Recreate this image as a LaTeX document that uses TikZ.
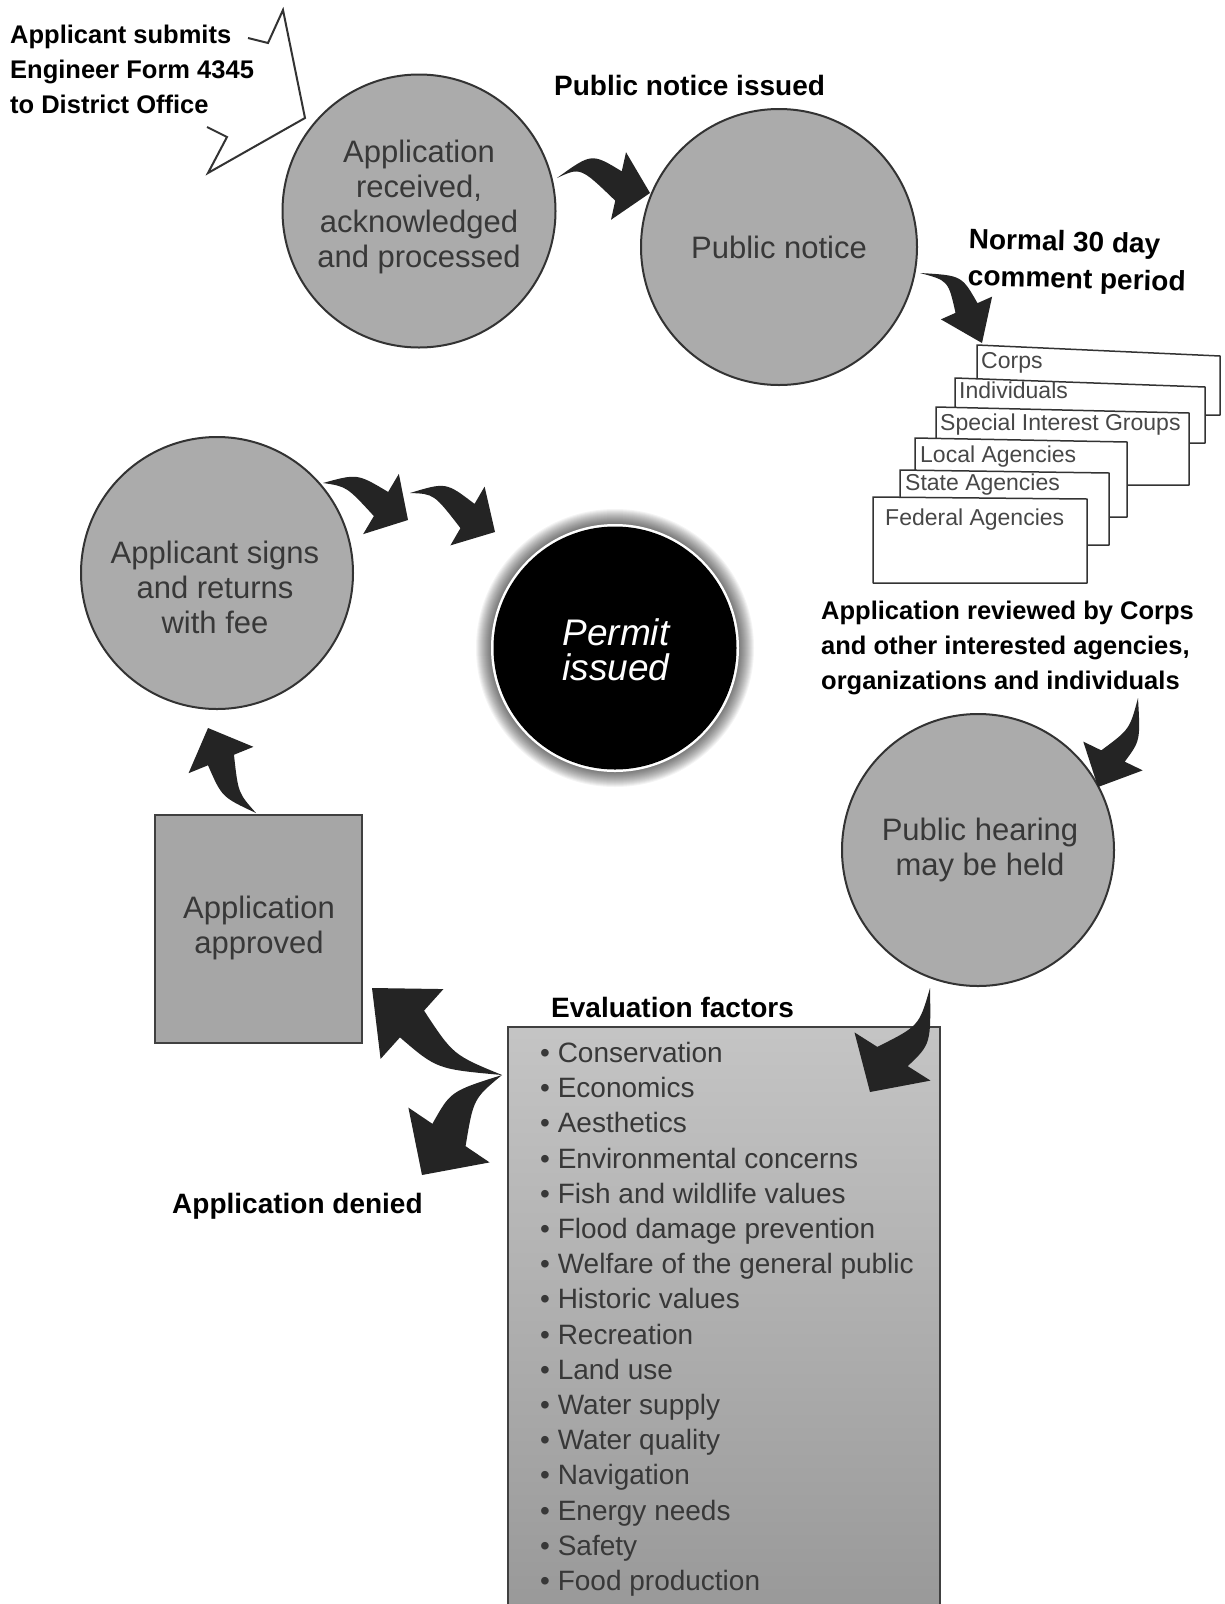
\documentclass[tikz,border=0pt]{standalone}
\usepackage{fontspec}
\setmainfont{Liberation Sans}
\usetikzlibrary{calc}

%%%% flecha gruesa curva: cola, control, base de la punta, punta, medio ancho banda, medio ancho punta
\newcommand{\bigarrow}[6]{%
\fill[arrowfill] (#1) .. controls ($(#2)!0.6*#5!90:(#3)$) .. ($(#3)!#5!90:(#4)$)
 -- ($(#3)!#6!90:(#4)$) -- (#4) -- ($(#3)!#6!-90:(#4)$) -- ($(#3)!#5!-90:(#4)$)
 .. controls ($(#2)!0.6*#5!-90:(#3)$) .. (#1) -- cycle;}

\begin{document}
\begin{tikzpicture}[x=1pt,y=-1pt,
	bubble/.style={circle, draw=black!80, line width=2pt, fill=black!33, inner sep=0pt},
	bubbletext/.style={align=center, inner sep=0pt, text=black!78, font=\fontsize{31}{35}\selectfont},
	headtext/.style={inner sep=0pt, align=left, font=\bfseries\fontsize{28}{37}\selectfont},
	notetext/.style={inner sep=0pt, align=left, font=\bfseries\fontsize{25.5}{35}\selectfont},
	card/.style={fill=white, draw=black!80, line width=1.5pt, line join=round},
	cardtext/.style={inner sep=0pt, anchor=base west, text=black!72, font=\fontsize{23}{26}\selectfont},
	listtext/.style={inner sep=0pt, align=left, text=black!78, font=\fontsize{28}{35.2}\selectfont},
	arrowfill/.style={fill=black!86},
	callout/.style={draw=black!80, line width=2pt, line join=miter}]

\fill[white] (0,0) rectangle (1225,1604);
\useasboundingbox (0,0) rectangle (1225,1604);

%%%%%%%%%%%%%%%%%%%%%%%%%%%%%%%%%%%%%%%%%%%%%%%% 	SOLICITUD
\draw[callout] (248,38) -- (268,43) -- (283,10) -- (305,118) -- (208,173) -- (227,137) -- (207,127);
\node[notetext, anchor=north west] (submit) at (10,25) {Applicant submits\\Engineer Form 4345\\to District Office};

\node[bubble, minimum size=273pt] (received) at (419,211) {};
\node[bubbletext] (received-txt) at (419,207) {Application\\received,\\acknowledged\\and processed};

%%%%%%%%%%%%%%%%%%%%%%%%%%%%%%%%%%%%%%%%%%%%%%%% 	AVISO PUBLICO
\node[headtext, anchor=base west] (issued) at (554,95) {Public notice issued};
\node[bubble, minimum size=276pt] (notice) at (779,247) {};
\node[bubbletext] (notice-txt) at (779,247) {Public notice};

\node[headtext, anchor=north west, rotate=-1.5] (period) at (969,228) {Normal 30 day\\comment period};

%%%%%%%%%%%%%%%%%%%%%%%%%%%%%%%%%%%%%%%%%%%%%%%% 	TARJETAS
\filldraw[card] (977,345) -- (1220,356) -- (1220,415) -- (977,415) -- cycle;
\node[cardtext] (corps) at (981,368) {Corps};
\filldraw[card] (955,378) -- (1205,387) -- (1205,443) -- (955,443) -- cycle;
\node[cardtext] (indiv) at (959,398) {Individuals};
\filldraw[card] (936,407) -- (1189,413) -- (1189,485) -- (936,485) -- cycle;
\node[cardtext] (special) at (940,430) {Special Interest Groups};
\filldraw[card] (915,438) -- (1127,442) -- (1127,517) -- (915,517) -- cycle;
\node[cardtext] (local) at (920,462) {Local Agencies};
\filldraw[card] (900,470) -- (1109,473) -- (1109,545) -- (900,545) -- cycle;
\node[cardtext] (state) at (905,490) {State Agencies};
\filldraw[card] (873,497) -- (1087,499) -- (1087,583) -- (873,583) -- cycle;
\node[cardtext] (federal) at (885,525) {Federal Agencies};

\node[notetext, anchor=north west] (reviewed) at (821,601) {Application reviewed by Corps\\and other interested agencies,\\organizations and individuals};

%%%%%%%%%%%%%%%%%%%%%%%%%%%%%%%%%%%%%%%%%%%%%%%% 	AUDIENCIA Y EVALUACION
\node[bubble, minimum size=272pt] (hearing) at (978,850) {};
\node[bubbletext] (hearing-txt) at (980,850) {Public hearing\\may be held};

\node[headtext, anchor=base west] (factors) at (551,1017) {Evaluation factors};
\node[draw=black!75, line width=1.5pt, top color=black!23, bottom color=black!40,
	minimum width=432pt, minimum height=582pt, inner sep=0pt, anchor=north west] (eval) at (507,1026) {};
\node[listtext, anchor=north west] (list) at (540,1042) {%
\textbullet\ Conservation\\
\textbullet\ Economics\\
\textbullet\ Aesthetics\\
\textbullet\ Environmental concerns\\
\textbullet\ Fish and wildlife values\\
\textbullet\ Flood damage prevention\\
\textbullet\ Welfare of the general public\\
\textbullet\ Historic values\\
\textbullet\ Recreation\\
\textbullet\ Land use\\
\textbullet\ Water supply\\
\textbullet\ Water quality\\
\textbullet\ Navigation\\
\textbullet\ Energy needs\\
\textbullet\ Safety\\
\textbullet\ Food production};

\node[headtext, anchor=base west] (denied) at (172,1213) {Application denied};

%%%%%%%%%%%%%%%%%%%%%%%%%%%%%%%%%%%%%%%%%%%%%%%% 	APROBACION
\node[draw=black!75, line width=1.5pt, fill=black!35, minimum width=207pt, minimum height=228pt, inner sep=0pt] (approved) at (258.5,929) {};
\node[bubbletext] (approved-txt) at (259,928) {Application\\approved};

\node[bubble, minimum size=272pt] (signs) at (217,573) {};
\node[bubbletext] (signs-txt) at (215,587) {Applicant signs\\and returns\\with fee};

%%%%%%%%%%%%%%%%%%%%%%%%%%%%%%%%%%%%%%%%%%%%%%%% 	PERMISO (halo difuso)
\foreach \r in {139,138,...,125}
	\fill[black, opacity=0.045] (615,648) circle (\r pt);
\fill[white] (615,648) circle (124pt);
\node[circle, fill=black, minimum size=243pt, inner sep=0pt] (permit) at (615,648) {};
\node[bubbletext, text=white, font=\itshape\fontsize{37}{35}\selectfont] (permit-txt) at (616,650) {Permit\\issued};

%%%%%%%%%%%%%%%%%%%%%%%%%%%%%%%%%%%%%%%%%%%%%%%% 	FLECHAS
\coordinate (a1t) at (557,178);   \coordinate (a1p) at (650,193);
\coordinate (a2t) at (920,273);   \coordinate (a2p) at (982,343);
\coordinate (a3t) at (1138,698);  \coordinate (a3p) at (1098,787);
\coordinate (a4t) at (930,988);   \coordinate (a4p) at (870,1092);
\coordinate (joint) at (502,1075);
\coordinate (a5p) at (372,988);   \coordinate (a6p) at (422,1175);
\coordinate (a7t) at (256,813);   \coordinate (a7p) at (208,728);
\coordinate (a8t) at (323,483);   \coordinate (a8p) at (408,520);
\coordinate (a9t) at (410,493);   \coordinate (a9p) at (495,532);

\bigarrow{a1t}{586,160}{618.5,186}{a1p}{15pt}{34.6pt}
\bigarrow{a2t}{955,278}{966.5,308}{a2p}{12pt}{28pt}
\bigarrow{a3t}{1135,735}{1113,756}{a3p}{13pt}{33pt}
\bigarrow{a4t}{925,1035}{892.5,1056.5}{a4p}{18pt}{45pt}
\bigarrow{joint}{445,1062}{412,1024}{a5p}{18pt}{47pt}
\bigarrow{joint}{462,1095}{449,1135}{a6p}{20pt}{49pt}
\bigarrow{a7t}{230,795}{221,760}{a7p}{14pt}{35pt}
\bigarrow{a8t}{352,480}{381,504}{a8p}{14pt}{35pt}
\bigarrow{a9t}{440,488}{467.5,516}{a9p}{14pt}{34pt}

\end{tikzpicture}
\end{document}
